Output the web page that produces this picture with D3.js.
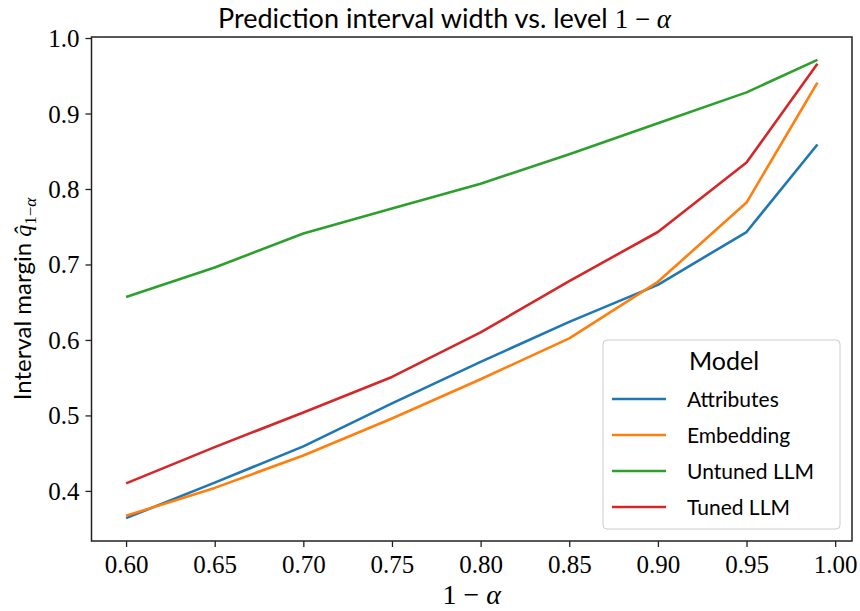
<!DOCTYPE html>
<html>
<head>
<meta charset="utf-8">
<script src="https://cdn.jsdelivr.net/npm/d3@7"></script>
<style>
  body { margin: 0; background: #fff; }
  svg { display: block; }
</style>
</head>
<body>
<div id="chart"></div>
<script>
// Data
const levels = [0.60, 0.65, 0.70, 0.75, 0.80, 0.85, 0.90, 0.95, 0.99];
const attributes = [0.364, 0.411, 0.459, 0.516, 0.571, 0.624, 0.673, 0.743, 0.859];
const embedding  = [0.367, 0.404, 0.447, 0.496, 0.548, 0.602, 0.677, 0.782, 0.941];
const untunedLLM = [0.657, 0.696, 0.741, 0.774, 0.807, 0.846, 0.887, 0.928, 0.971];
const tunedLLM   = [0.410, 0.458, 0.504, 0.551, 0.610, 0.678, 0.743, 0.835, 0.966];
const seriesNames = ["Attributes", "Embedding", "Untuned LLM", "Tuned LLM"];
const xTicks = [0.60, 0.65, 0.70, 0.75, 0.80, 0.85, 0.90, 0.95, 1.00];
const yTicks = [0.4, 0.5, 0.6, 0.7, 0.8, 0.9, 1.0];

const series = [attributes, embedding, untunedLLM, tunedLLM].map((vals, i) => ({
  name: seriesNames[i],
  points: levels.map((x, j) => ({x, y: vals[j]}))
}));
const colors = ["#1f77b4", "#ff7f0e", "#2ca02c", "#d62728"];

const width = 860;
const height = 611;
const margin = {top: 37, right: 8, bottom: 70, left: 91.5};

const svg = d3.select("#chart")
  .append("svg")
  .attr("width", width)
  .attr("height", height);

// matplotlib-like 5% padding
const pad = (lo, hi) => [lo - (hi - lo) * 0.05, hi + (hi - lo) * 0.05];
const allY = [].concat(attributes, embedding, untunedLLM, tunedLLM);

const x = d3.scaleLinear()
  .domain(pad(d3.min(levels), d3.max(levels)))
  .range([margin.left, width - margin.right]);

const y = d3.scaleLinear()
  .domain(pad(d3.min(allY), d3.max(allY)))
  .range([height - margin.bottom, margin.top]);

const serif = "'Liberation Serif', 'DejaVu Serif', serif";
const sans = "Lato, 'Noto Sans', sans-serif";

// Lines
const line = d3.line().x(d => x(d.x)).y(d => y(d.y));
svg.append("g")
  .selectAll("path")
  .data(series)
  .enter()
  .append("path")
  .attr("d", d => line(d.points))
  .attr("fill", "none")
  .attr("stroke", (d, i) => colors[i])
  .attr("stroke-width", 2.6)
  .attr("stroke-linejoin", "round");

// Axes
const xAxis = svg.append("g")
  .attr("transform", `translate(0,${height - margin.bottom})`)
  .call(d3.axisBottom(x).tickValues(xTicks).tickFormat(d3.format(".2f")).tickSizeOuter(0).tickSize(6).tickPadding(8));

const yAxis = svg.append("g")
  .attr("transform", `translate(${margin.left},0)`)
  .call(d3.axisLeft(y).tickValues(yTicks).tickFormat(d3.format(".1f")).tickSizeOuter(0).tickSize(6).tickPadding(6));

[xAxis, yAxis].forEach(g => {
  g.select(".domain").remove();
  g.selectAll(".tick line").attr("stroke", "#222").attr("stroke-width", 1.3);
  g.selectAll(".tick text")
    .attr("font-family", serif)
    .attr("font-size", 25)
    .attr("fill", "#000");
});
yAxis.selectAll(".tick text").attr("dy", "0.34em");

// Frame
svg.append("rect")
  .attr("x", margin.left)
  .attr("y", margin.top)
  .attr("width", width - margin.right - margin.left)
  .attr("height", height - margin.bottom - margin.top)
  .attr("fill", "none")
  .attr("stroke", "#222")
  .attr("stroke-width", 1.5);

// Title
const title = svg.append("text")
  .attr("x", 218)
  .attr("y", 28)
  .attr("font-size", 27)
  .attr("fill", "#000");
title.append("tspan").attr("font-family", sans).text("Prediction interval width vs. level ");
title.append("tspan").attr("font-family", serif).text("1 \u2212 ");
title.append("tspan").attr("font-family", serif).attr("font-style", "italic").text("\u03b1");

// X label
const xl = svg.append("text")
  .attr("x", (margin.left + width - margin.right) / 2)
  .attr("y", 604)
  .attr("text-anchor", "middle")
  .attr("font-family", serif)
  .attr("font-size", 28)
  .attr("fill", "#000");
xl.append("tspan").text("1 \u2212 ");
xl.append("tspan").attr("font-style", "italic").text("\u03b1");

// Y label
const yl = svg.append("text")
  .attr("transform", `translate(31,${(margin.top + height - margin.bottom) / 2 + 10}) rotate(-90)`)
  .attr("text-anchor", "middle")
  .attr("font-size", 24)
  .attr("fill", "#000");
yl.append("tspan").attr("font-family", sans).text("Interval margin ");
yl.append("tspan").attr("font-family", serif).attr("font-style", "italic").text("q\u0302");
yl.append("tspan").attr("font-family", serif).attr("font-size", 17).attr("dy", 5).text("1\u2212");
yl.append("tspan").attr("font-family", serif).attr("font-size", 17).attr("font-style", "italic").text("\u03b1");

// Legend
const lg = svg.append("g").attr("transform", "translate(603,340)");
lg.append("rect")
  .attr("width", 237)
  .attr("height", 189)
  .attr("rx", 4)
  .attr("fill", "#fff")
  .attr("fill-opacity", 0.8)
  .attr("stroke", "#ccc")
  .attr("stroke-width", 1);
lg.append("text")
  .attr("x", 121)
  .attr("y", 30)
  .attr("text-anchor", "middle")
  .attr("font-family", sans)
  .attr("font-size", 25)
  .text("Model");
const items = lg.selectAll("g.item")
  .data(series)
  .enter()
  .append("g")
  .attr("transform", (d, i) => `translate(0,${59 + i * 36})`);
items.append("line")
  .attr("x1", 9).attr("x2", 63)
  .attr("stroke", (d, i) => colors[i])
  .attr("stroke-width", 2.6);
items.append("text")
  .attr("x", 84)
  .attr("y", 8)
  .attr("font-family", sans)
  .attr("font-size", 21)
  .text(d => d.name);
</script>
</body>
</html>
